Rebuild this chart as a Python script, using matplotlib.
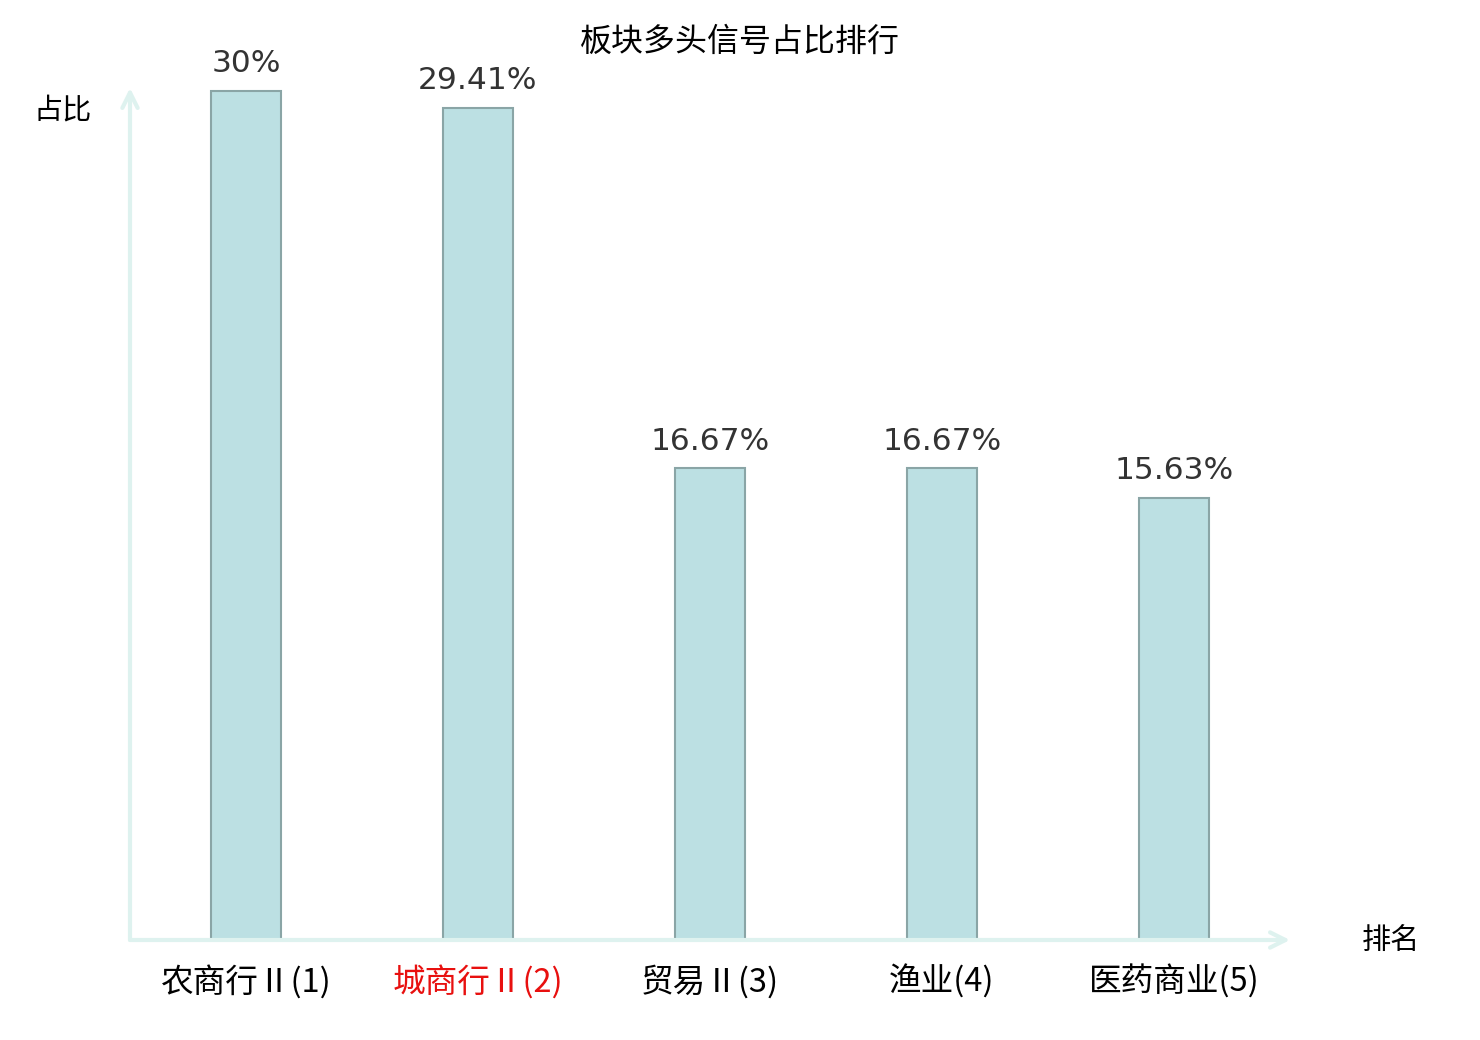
import matplotlib
matplotlib.use('Agg')
import matplotlib.pyplot as plt

plt.rcParams['font.family'] = ['Noto Sans CJK SC', 'DejaVu Sans']

# data
sectors = ['农商行Ⅱ', '城商行Ⅱ', '贸易Ⅱ', '渔业', '医药商业']
ranks = [1, 2, 3, 4, 5]
ratios = [30, 29.41, 16.67, 16.67, 15.63]
ratio_labels = ['30%', '29.41%', '16.67%', '16.67%', '15.63%']
highlight = '城商行Ⅱ'

BAR_COLOR = '#bce0e3'
EDGE_COLOR = '#8aa5a6'
AXIS_COLOR = '#def2ef'

fig = plt.figure(figsize=(14.8, 10.4), dpi=100)
ax = fig.add_axes([130 / 1480, 100 / 1040, 1160 / 1480, 852 / 1040])

x = list(range(len(sectors)))
bars = ax.bar(x, ratios, width=0.3, color=BAR_COLOR, edgecolor=EDGE_COLOR, linewidth=1.5)
ax.bar_label(bars, labels=ratio_labels, padding=9, fontsize=22.5,
             family='DejaVu Sans', color='#333333')

ax.set_xlim(-0.5, 4.5)
ax.set_ylim(0, 30.1)

for s in ax.spines.values():
    s.set_visible(False)
ax.set_yticks([])
ax.set_xticks(x)
ax.set_xticklabels([f'{n}({r})' for n, r in zip(sectors, ranks)], fontsize=23.5)
ax.tick_params(axis='x', length=0, pad=18)
for lbl, name in zip(ax.get_xticklabels(), sectors):
    if name == highlight:
        lbl.set_color('#e8100f')

# axis arrows
for end in [(1.0, 0), (0, 1.0)]:
    ax.annotate('', xy=end, xytext=(0, 0), xycoords='axes fraction',
                arrowprops=dict(arrowstyle='->,head_length=1.1,head_width=0.55',
                                color=AXIS_COLOR, lw=3, shrinkA=0, shrinkB=0),
                annotation_clip=False)

fig.text(63 / 1480, 1 - 110 / 1040, '占比', fontsize=21, ha='center', va='center')
fig.text(1391 / 1480, 1 - 941 / 1040, '排名', fontsize=21, ha='center', va='center')
fig.text(740 / 1480, 1 - 42 / 1040, '板块多头信号占比排行', fontsize=23, ha='center', va='center')

fig.savefig('out.png', dpi=100)
